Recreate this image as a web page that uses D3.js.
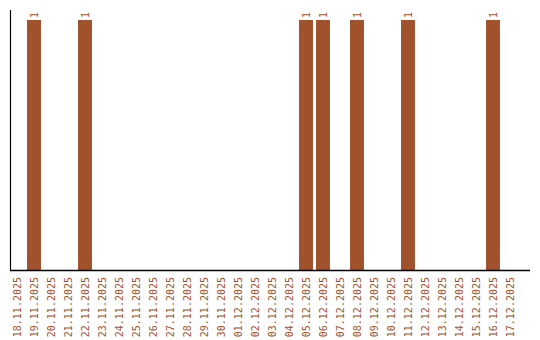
<!DOCTYPE html>
<html>
<head>
<meta charset="utf-8">
<script src="https://cdn.jsdelivr.net/npm/d3@7"></script>
<style>
  body { margin: 0; background: #fff; }
  text { font-family: "DejaVu Sans Mono", monospace; }
</style>
</head>
<body>
<script>
// Data
var dates = ["18.11.2025","19.11.2025","20.11.2025","21.11.2025","22.11.2025","23.11.2025",
  "24.11.2025","25.11.2025","26.11.2025","27.11.2025","28.11.2025","29.11.2025","30.11.2025",
  "01.12.2025","02.12.2025","03.12.2025","04.12.2025","05.12.2025","06.12.2025","07.12.2025",
  "08.12.2025","09.12.2025","10.12.2025","11.12.2025","12.12.2025","13.12.2025","14.12.2025",
  "15.12.2025","16.12.2025","17.12.2025"];
var counts = [0,1,0,0,1,0,0,0,0,0,0,0,0,0,0,0,0,1,1,0,1,0,0,1,0,0,0,0,1,0];

var color = "#a0522d";
var width = 540, height = 340;

var svg = d3.select("body")
  .append("svg")
    .attr("width", width)
    .attr("height", height);

var x = d3.scaleBand()
  .domain(dates)
  .range([8.5, 518.5])
  .paddingInner(0.18)
  .paddingOuter(0.09);

var y = d3.scaleLinear()
  .domain([0, 1])
  .range([270, 20]);

// Bars
svg.append("g")
  .selectAll("rect")
  .data(dates)
  .enter()
  .filter(function(d, i) { return counts[i] > 0; })
  .append("rect")
    .attr("x", function(d) { return x(d); })
    .attr("y", function(d) { return y(counts[dates.indexOf(d)]); })
    .attr("width", x.bandwidth())
    .attr("height", function(d) { return y(0) - y(counts[dates.indexOf(d)]); })
    .attr("fill", color);

// Value labels
svg.append("g")
  .selectAll("text")
  .data(dates.filter(function(d, i) { return counts[i] > 0; }))
  .enter()
  .append("text")
    .attr("transform", function(d) {
      var cx = x(d) + x.bandwidth() / 2;
      return "translate(" + (cx + 3.5) + "," + (y(counts[dates.indexOf(d)]) - 2) + ") rotate(-90)";
    })
    .attr("text-anchor", "start")
    .style("font-size", "10px")
    .attr("fill", color)
    .text(function(d) { return counts[dates.indexOf(d)]; });

// Axis lines
svg.append("line")
  .attr("x1", 10.5).attr("x2", 10.5)
  .attr("y1", 10).attr("y2", 270.5)
  .attr("stroke", "#000").attr("stroke-width", 1.2);
svg.append("line")
  .attr("x1", 10).attr("x2", 530)
  .attr("y1", 270.5).attr("y2", 270.5)
  .attr("stroke", "#000").attr("stroke-width", 1.5);

// X labels
svg.append("g")
  .selectAll("text")
  .data(dates)
  .enter()
  .append("text")
    .attr("transform", function(d) {
      return "translate(" + (x(d) + x.bandwidth() / 2 + 3.5) + ",277) rotate(-90)";
    })
    .attr("text-anchor", "end")
    .style("font-size", "10px")
    .attr("fill", color)
    .text(function(d) { return d; });
</script>
</body>
</html>
